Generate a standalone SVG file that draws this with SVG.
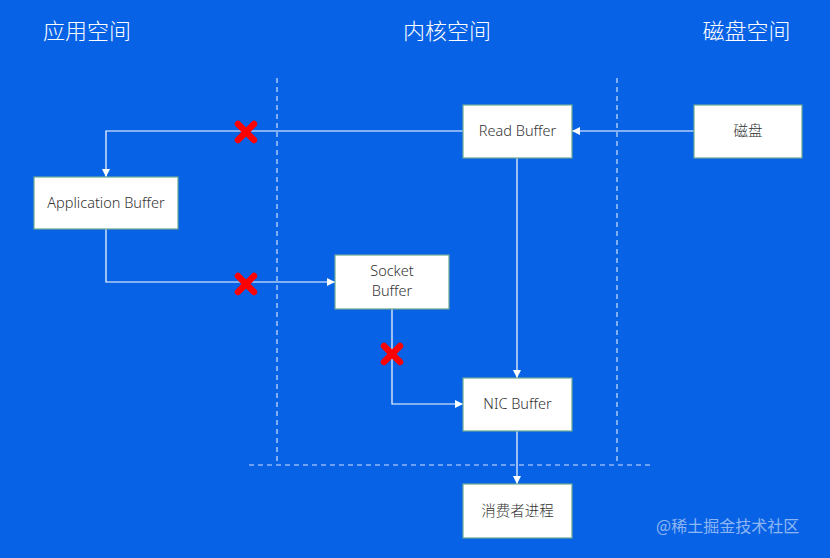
<svg xmlns="http://www.w3.org/2000/svg" width="830" height="558" viewBox="0 0 830 558">
  <style>
    .title { font-family: "Noto Sans CJK SC", "Noto Sans", sans-serif; font-size: 22px; font-weight: 300; fill: #ffffff; text-anchor: middle; }
    .box { fill: #ffffff; stroke: #6aa893; stroke-width: 1.2; }
    .label { font-family: "Noto Sans", "Noto Sans CJK SC", sans-serif; font-size: 14.5px; font-weight: 300; fill: #333333; text-anchor: middle; }
    .conn { fill: none; stroke: #ffffff; stroke-width: 1.2; }
    .dash { fill: none; stroke: #cfe0ff; stroke-width: 1.2; stroke-dasharray: 5 4; }
    .cross { stroke: #ff0000; stroke-width: 6.5; stroke-linecap: round; }
    .wm { font-family: "Noto Sans CJK SC", sans-serif; font-size: 16px; fill: #ffffff; fill-opacity: 0.55; }
  </style>
  <defs>
    <marker id="arrow" viewBox="0 0 10 10" refX="10" refY="5" markerWidth="8" markerHeight="8" markerUnits="userSpaceOnUse" orient="auto">
      <path d="M0,0 L10,5 L0,10 z" fill="#ffffff"/>
    </marker>
  </defs>
  <rect x="0" y="0" width="830" height="558" fill="#0862e6"/>

  <g id="titles">
    <text class="title" x="87" y="39">应用空间</text>
    <text class="title" x="447" y="39">内核空间</text>
    <text class="title" x="746.5" y="39">磁盘空间</text>
  </g>

  <g id="dividers">
    <line class="dash" x1="277" y1="78" x2="277" y2="463"/>
    <line class="dash" x1="617" y1="78" x2="617" y2="463"/>
    <line class="dash" x1="249" y1="465" x2="653" y2="465"/>
  </g>

  <g id="connectors">
    <path class="conn" d="M694,131 L572,131" marker-end="url(#arrow)"/>
    <path class="conn" d="M463,131 L106,131 L106,177" marker-end="url(#arrow)"/>
    <path class="conn" d="M106,229 L106,282 L335,282" marker-end="url(#arrow)"/>
    <path class="conn" d="M392,309 L392,404 L463,404" marker-end="url(#arrow)"/>
    <path class="conn" d="M517,158 L517,378" marker-end="url(#arrow)"/>
    <path class="conn" d="M517,431 L517,484" marker-end="url(#arrow)"/>
  </g>

  <g id="crosses">
    <g transform="translate(246,132)">
      <line class="cross" x1="-8" y1="-8" x2="8" y2="8"/>
      <line class="cross" x1="8" y1="-8" x2="-8" y2="8"/>
    </g>
    <g transform="translate(246,284)">
      <line class="cross" x1="-8" y1="-8" x2="8" y2="8"/>
      <line class="cross" x1="8" y1="-8" x2="-8" y2="8"/>
    </g>
    <g transform="translate(392,354)">
      <line class="cross" x1="-8" y1="-8" x2="8" y2="8"/>
      <line class="cross" x1="8" y1="-8" x2="-8" y2="8"/>
    </g>
  </g>

  <g id="read-buffer">
    <rect class="box" x="463" y="105" width="109" height="53"/>
    <text class="label" x="517.5" y="136">Read Buffer</text>
  </g>
  <g id="disk">
    <rect class="box" x="694" y="105" width="108" height="53"/>
    <text class="label" x="748" y="136">磁盘</text>
  </g>
  <g id="application-buffer">
    <rect class="box" x="34" y="177" width="144" height="52"/>
    <text class="label" x="106" y="208">Application Buffer</text>
  </g>
  <g id="socket-buffer">
    <rect class="box" x="335" y="255" width="114" height="54"/>
    <text class="label" x="392" y="276">Socket</text>
    <text class="label" x="392" y="296">Buffer</text>
  </g>
  <g id="nic-buffer">
    <rect class="box" x="463" y="378" width="109" height="53"/>
    <text class="label" x="517.5" y="409">NIC Buffer</text>
  </g>
  <g id="consumer">
    <rect class="box" x="463" y="484" width="109" height="54"/>
    <text class="label" x="517.5" y="516">消费者进程</text>
  </g>

  <text class="wm" x="656" y="532">@稀土掘金技术社区</text>
</svg>
